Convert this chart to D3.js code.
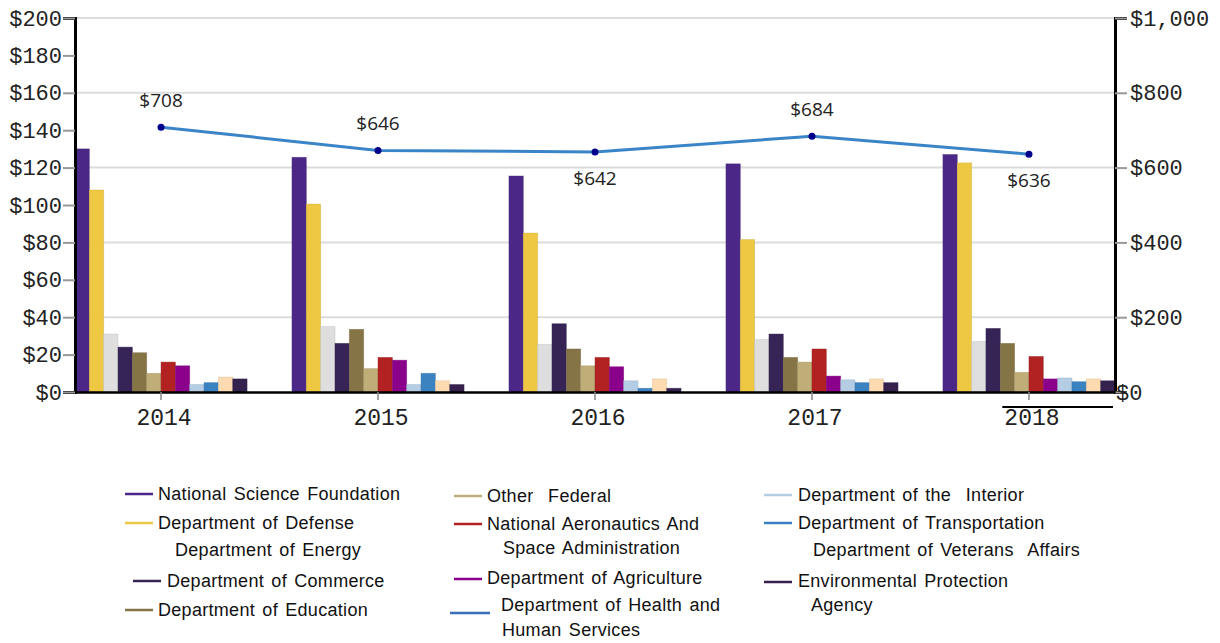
<!DOCTYPE html>
<html>
<head>
<meta charset="utf-8">
<script src="https://cdn.jsdelivr.net/npm/d3@7"></script>
<style>
  body { margin: 0; background: #fff; }
  svg { display: block; }
</style>
</head>
<body>
<div id="chart"></div>
<script>
// Years on the x axis
const years = ["2014", "2015", "2016", "2017", "2018"];

// Agencies drawn as bars, in bar order
const agencies = [
  "National Science Foundation", "Department of Defense", "Department of Energy",
  "Department of Commerce", "Department of Education", "Other Federal",
  "National Aeronautics And Space Administration", "Department of Agriculture",
  "Department of the Interior", "Department of Transportation",
  "Department of Veterans Affairs", "Environmental Protection Agency"
];

// Bar values per agency, one per year (left axis, $)
const nsf            = [130, 125.5, 115.5, 122, 127];
const defense        = [108, 100.5, 85, 81.5, 122.5];
const energy         = [31, 35, 25.5, 28, 27];
const commerce       = [24, 26, 36.5, 31, 34];
const education      = [21, 33.5, 23, 18.5, 26];
const otherFederal   = [10, 12.5, 14, 16, 10.5];
const nasa           = [16, 18.5, 18.5, 23, 19];
const agriculture    = [14, 17, 13.5, 8.5, 7];
const interior       = [4, 4, 6, 6.5, 7.5];
const transportation = [5, 10, 2, 5, 5.5];
const veterans       = [8, 6, 7, 7, 7];
const epa            = [7, 4, 2, 5, 6];

// Total line values (right axis, $)
const totals = [708, 646, 642, 684, 636];

const leftTicks = [0, 20, 40, 60, 80, 100, 120, 140, 160, 180, 200];
const rightTicks = [0, 200, 400, 600, 800, 1000];

const seriesValues = [nsf, defense, energy, commerce, education, otherFederal,
  nasa, agriculture, interior, transportation, veterans, epa];

const colors = ["#4b2887", "#eec843", "#dedede", "#362456", "#857546", "#c0ae78",
  "#b22222", "#8b008b", "#b4cde4", "#3b82c0", "#fedab0", "#35214e"];

// Flatten into one table for drawing
const barData = [];
years.forEach((year, yi) => {
  agencies.forEach((agency, ai) => {
    barData.push({ year, agency, value: seriesValues[ai][yi], color: colors[ai] });
  });
});

const W = 1220, H = 643;
const plot = { left: 75, right: 1115, top: 18, bottom: 392 };

const svg = d3.select("#chart").append("svg")
  .attr("width", W)
  .attr("height", H);

const x = d3.scaleBand()
  .domain(years)
  .range([plot.left, plot.right])
  .paddingInner(0.207)
  .paddingOuter(0);

const xInner = d3.scaleBand()
  .domain(agencies)
  .range([0, x.bandwidth()]);

const yLeft = d3.scaleLinear().domain([0, 200]).range([plot.bottom, plot.top]);
const yRight = d3.scaleLinear().domain([0, 1000]).range([plot.bottom, plot.top]);

// Gridlines (from right axis ticks)
svg.append("g")
  .selectAll("line")
  .data(rightTicks.filter(d => d > 0))
  .enter()
  .append("line")
  .attr("x1", plot.left)
  .attr("x2", plot.right)
  .attr("y1", d => yRight(d))
  .attr("y2", d => yRight(d))
  .attr("stroke", "#dcdcdc")
  .attr("stroke-width", 2);

// Bars
svg.append("g")
  .selectAll("rect")
  .data(barData)
  .enter()
  .append("rect")
  .attr("x", d => x(d.year) + xInner(d.agency))
  .attr("y", d => yLeft(d.value))
  .attr("width", xInner.bandwidth())
  .attr("height", d => plot.bottom - yLeft(d.value))
  .attr("fill", d => d.color)
  .attr("stroke", d => d3.color(d.color).darker(0.4))
  .attr("stroke-opacity", 0.5)
  .attr("stroke-width", 0.8);

// Left axis
const monoFont = "'Liberation Mono', 'Courier New', monospace";
const leftAxis = svg.append("g")
  .attr("transform", `translate(${plot.left},0)`)
  .call(d3.axisLeft(yLeft).tickValues(leftTicks).tickFormat(d => "$" + d).tickSize(12).tickPadding(1));
leftAxis.select(".domain").attr("stroke", "#000").attr("stroke-width", 3);
leftAxis.selectAll(".tick line").attr("stroke", "#999").attr("stroke-width", 2);
leftAxis.selectAll("text")
  .style("font-family", monoFont)
  .style("font-size", "22px")
  .attr("fill", "#222");

// Right axis
const rightAxis = svg.append("g")
  .attr("transform", `translate(${plot.right},0)`)
  .call(d3.axisRight(yRight).tickValues(rightTicks).tickFormat(d => "$" + d3.format(",")(d)).tickSize(12).tickPadding(3));
rightAxis.select(".domain").attr("stroke", "#000").attr("stroke-width", 3);
rightAxis.selectAll(".tick line").attr("stroke", "#999").attr("stroke-width", 2);
rightAxis.selectAll("text")
  .style("font-family", monoFont)
  .style("font-size", "22px")
  .attr("fill", "#222");
// the $0 label sits right against the axis in the original
rightAxis.selectAll(".tick").filter(d => d === 0).select("text").attr("x", 1);

// Bottom axis
const bottomAxis = svg.append("g")
  .attr("transform", `translate(0,${plot.bottom})`)
  .call(d3.axisBottom(x).tickSize(8).tickSizeOuter(0).tickPadding(9));
bottomAxis.select(".domain").attr("stroke", "#000").attr("stroke-width", 2.5);
bottomAxis.selectAll(".tick line").attr("stroke", "#888").attr("stroke-width", 1.5);
bottomAxis.selectAll("text")
  .attr("dx", 3)
  .style("font-family", monoFont)
  .style("font-size", "23px")
  .attr("fill", "#222");

// Stray overline above the last year label
svg.append("line")
  .attr("x1", x("2018") + x.bandwidth() * 0.345)
  .attr("x2", x("2018") + x.bandwidth() - 2)
  .attr("y1", plot.bottom + 15)
  .attr("y2", plot.bottom + 15)
  .attr("stroke", "#000")
  .attr("stroke-width", 2);

// Total line
const cx = d => x(d.year) + x.bandwidth() / 2;
const lineData = years.map((year, i) => ({ year, value: totals[i], i }));

svg.append("path")
  .datum(lineData)
  .attr("fill", "none")
  .attr("stroke", "#3a84c8")
  .attr("stroke-width", 3)
  .attr("d", d3.line().x(cx).y(d => yRight(d.value)));

svg.append("g")
  .selectAll("circle")
  .data(lineData)
  .enter()
  .append("circle")
  .attr("cx", cx)
  .attr("cy", d => yRight(d.value))
  .attr("r", 3.5)
  .attr("fill", "#00008b");

// Value labels: below the point when it is lower than its neighbours
function isLow(d) {
  const prev = d.i > 0 ? totals[d.i - 1] : Infinity;
  const next = d.i < totals.length - 1 ? totals[d.i + 1] : Infinity;
  return d.value < prev && d.value < next;
}
svg.append("g")
  .selectAll("text")
  .data(lineData)
  .enter()
  .append("text")
  .attr("x", cx)
  .attr("y", d => yRight(d.value) + (isLow(d) ? 33 : -20))
  .attr("text-anchor", "middle")
  .style("font-family", "'Open Sans', 'DejaVu Sans', sans-serif")
  .style("font-size", "19px")
  .attr("fill", "#222")
  .text(d => "$" + d.value);

// Legend
const legendFont = "'Liberation Sans', Arial, sans-serif";
const legendItems = [
  { color: colors[0], mx: [125, 153], my: 494, lines: [["National Science Foundation", 158, 494]] },
  { color: colors[1], mx: [125, 153], my: 523, lines: [["Department of Defense", 158, 523]] },
  { color: null, lines: [["Department of Energy", 175, 550]] },
  { color: colors[3], mx: [133, 161], my: 581, lines: [["Department of Commerce", 167, 581]] },
  { color: colors[4], mx: [125, 153], my: 610, lines: [["Department of Education", 158, 610]] },
  { color: colors[5], mx: [454, 482], my: 496, lines: [["Other  Federal", 487, 496]] },
  { color: colors[6], mx: [454, 482], my: 524, lines: [["National Aeronautics And", 487, 524], ["Space Administration", 503, 548]] },
  { color: colors[7], mx: [454, 482], my: 579, lines: [["Department of Agriculture", 487, 578]] },
  { color: "#3b6eb8", mx: [450, 490], my: 613, lines: [["Department of Health and", 501, 605], ["Human Services", 502, 630]] },
  { color: colors[8], mx: [764, 792], my: 495, lines: [["Department of the  Interior", 798, 495]] },
  { color: colors[9], mx: [764, 792], my: 523, lines: [["Department of Transportation", 798, 523]] },
  { color: null, lines: [["Department of Veterans  Affairs", 813, 550]] },
  { color: colors[11], mx: [764, 792], my: 582, lines: [["Environmental Protection", 798, 581], ["Agency", 811, 605]] }
];

const legend = svg.append("g");
legendItems.forEach(item => {
  if (item.color) {
    legend.append("line")
      .attr("x1", item.mx[0]).attr("x2", item.mx[1])
      .attr("y1", item.my).attr("y2", item.my)
      .attr("stroke", item.color)
      .attr("stroke-width", 2.5);
  }
  item.lines.forEach(([txt, tx, ty]) => {
    legend.append("text")
      .attr("x", tx)
      .attr("y", ty)
      .attr("dominant-baseline", "central")
      .style("font-family", legendFont)
      .style("font-size", "18px")
      .style("letter-spacing", "0.3px")
      .style("word-spacing", "2px")
      .style("white-space", "pre")
      .attr("fill", "#111")
      .text(txt);
  });
});
</script>
</body>
</html>
